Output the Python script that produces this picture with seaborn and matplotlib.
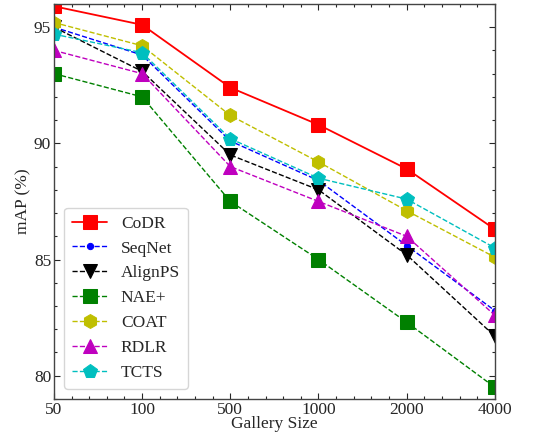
import numpy as np
import pandas as pd
import matplotlib
matplotlib.use("Agg")
import matplotlib.pyplot as plt
import seaborn as sns
from matplotlib.ticker import MultipleLocator

# ==========================================
# DATA
# ==========================================
gallery_sizes = ["50", "100", "500", "1000", "2000", "4000"]

codr = [95.9, 95.1, 92.4, 90.8, 88.9, 86.3]
seqnet = [95.0, 93.8, 90.1, 88.4, 85.6, 82.8]
alignps = [95.0, 93.1, 89.5, 88.0, 85.2, 81.7]
nae_plus = [93.0, 92.0, 87.5, 85.0, 82.3, 79.5]
coat = [95.2, 94.2, 91.2, 89.2, 87.1, 85.1]
rdlr = [94.0, 93.0, 89.0, 87.5, 86.0, 82.6]
tcts = [94.7, 93.9, 90.2, 88.5, 87.6, 85.5]

methods = ["CoDR", "SeqNet", "AlignPS", "NAE+", "COAT", "RDLR", "TCTS"]
values = [codr, seqnet, alignps, nae_plus, coat, rdlr, tcts]

# style per method: color, marker, markersize, linestyle
styles = {
    "CoDR": ("#ff0000", "s", 10, "-"),
    "SeqNet": ("#0000ff", "o", 4.5, "--"),
    "AlignPS": ("#000000", "v", 10, "--"),
    "NAE+": ("#008000", "s", 10, "--"),
    "COAT": ("#bfbf00", "h", 10, "--"),
    "RDLR": ("#bf00bf", "^", 10, "--"),
    "TCTS": ("#00bfbf", "p", 10, "--"),
}

df = pd.DataFrame({
    "pos": np.tile(np.arange(len(gallery_sizes)), len(methods)),
    "mAP": np.concatenate(values),
    "method": np.repeat(methods, len(gallery_sizes)),
})

# ==========================================
# PLOT
# ==========================================
sns.set_style("ticks")
plt.rcParams["font.family"] = ["Liberation Serif", "DejaVu Serif"]

fig = plt.figure(figsize=(5.45, 4.36), dpi=100)
ax = fig.add_axes([0.099, 0.085, 0.809, 0.906])

for m in methods:
    color, marker, ms, ls = styles[m]
    sub = df[df["method"] == m]
    sns.lineplot(data=sub, x="pos", y="mAP", ax=ax, color=color, marker=marker,
                 markersize=ms, linestyle=ls, linewidth=1.3 if ls == "-" else 1.0,
                 markeredgecolor=color, label=m)

ax.set_xlim(0, len(gallery_sizes) - 1)
ax.set_ylim(79, 96)
ax.set_xticks(np.arange(len(gallery_sizes)))
ax.set_xticklabels(gallery_sizes)
ax.xaxis.set_minor_locator(MultipleLocator(0.2))
ax.yaxis.set_major_locator(MultipleLocator(5))
ax.yaxis.set_minor_locator(MultipleLocator(1))
ax.tick_params(which="both", direction="in", top=True, right=True, labelsize=12.5, width=0.8)
ax.tick_params(which="major", length=4, pad=2)
ax.tick_params(which="minor", length=2.5)
for s in ax.spines.values():
    s.set_linewidth(1.0)
    s.set_color("#444444")

ax.set_xlabel("Gallery Size", fontsize=12.5, labelpad=-1)
ax.set_ylabel("mAP (%)", fontsize=12.5, labelpad=2)

ax.legend(loc="lower left", fontsize=12.5, frameon=True, handlelength=2.0,
          borderpad=0.45, labelspacing=0.5, borderaxespad=0.6,
          edgecolor="#cccccc", fancybox=True)

fig.savefig("out.png", dpi=100)
